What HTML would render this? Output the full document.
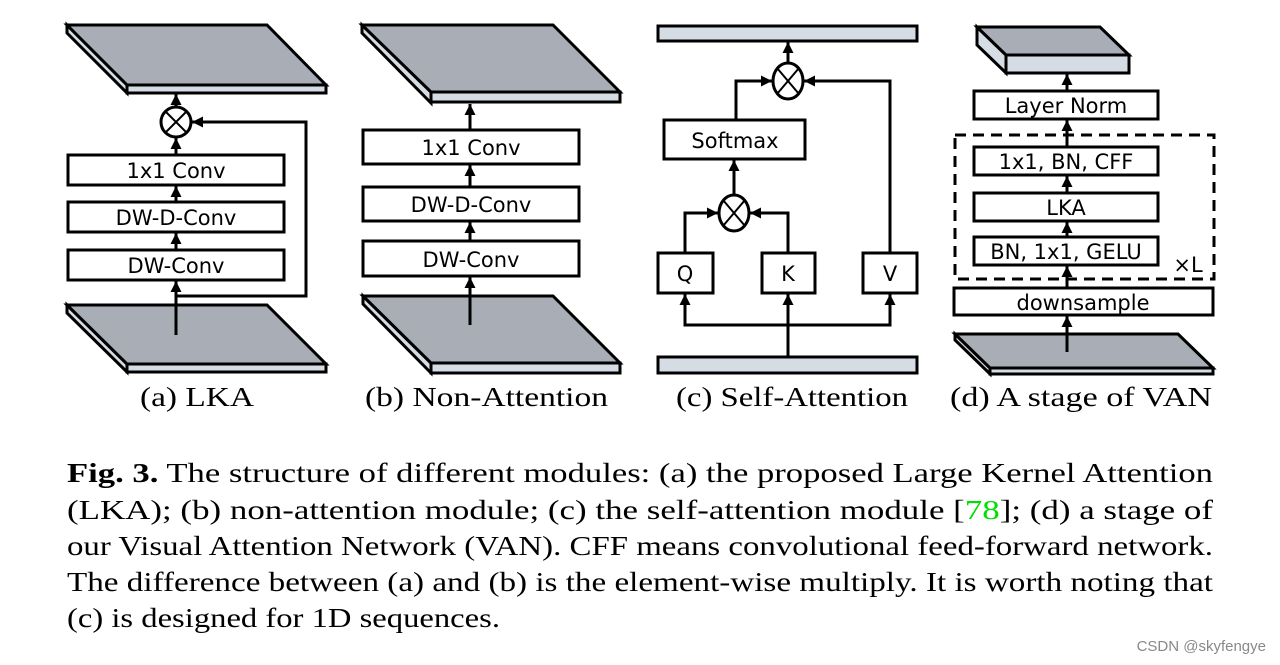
<!DOCTYPE html>
<html><head><meta charset="utf-8"><style>
html,body{margin:0;padding:0;background:#fff;}
svg{display:block;}
.s{font-family:"DejaVu Sans","Liberation Sans",sans-serif;font-size:21px;fill:#000;}
.r{font-family:"Liberation Serif",serif;font-size:27px;fill:#000;}
</style></head><body>
<svg width="1280" height="665" viewBox="0 0 1280 665" xmlns="http://www.w3.org/2000/svg">
<defs>
<marker id="a" markerWidth="12" markerHeight="12" refX="11" refY="6" orient="auto" markerUnits="userSpaceOnUse"><path d="M0,0.5 L11,6 L0,11.5 z" fill="#000"/></marker>
</defs>
<g stroke="#000" stroke-width="3" stroke-linejoin="miter">
<polygon points="67,25 67,33 127,93 127,85" fill="#d6dce4"/>
<rect x="127" y="85" width="199" height="8" fill="#d6dce4"/>
<polygon points="67,25 267,25 326,85 127,85" fill="#a9aeb6"/>
<polygon points="67,305 67,313 127,372 127,364" fill="#d6dce4"/>
<rect x="127" y="364" width="199" height="8" fill="#d6dce4"/>
<polygon points="67,305 267,305 326,364 127,364" fill="#a9aeb6"/>
<polygon points="362,25 362,33 431,103 431,92" fill="#d6dce4"/>
<rect x="431" y="92" width="189" height="10" fill="#d6dce4"/>
<polygon points="362,25 553,25 620,92 431,92" fill="#a9aeb6"/>
<polygon points="363,296 363,304 431,373 431,363" fill="#d6dce4"/>
<rect x="431" y="363" width="189" height="10" fill="#d6dce4"/>
<polygon points="363,296 553,296 620,363 431,363" fill="#a9aeb6"/>
<rect x="658" y="26" width="259" height="15" fill="#d6dce4"/>
<rect x="658" y="357" width="259" height="16" fill="#d6dce4"/>
<polygon points="977,27 977,45 1006,73 1006,55" fill="#d6dce4"/>
<rect x="1006" y="55" width="123" height="18" fill="#d6dce4"/>
<polygon points="977,27 1100,27 1129,55 1006,55" fill="#a9aeb6"/>
<polygon points="955,334 955,340 990,374 990,368" fill="#d6dce4"/>
<rect x="990" y="368" width="223" height="6" fill="#d6dce4"/>
<polygon points="955,334 1178,334 1213,368 990,368" fill="#a9aeb6"/>
<g fill="#fff">
<rect x="68" y="155" width="216" height="30"/>
<rect x="68" y="202" width="216" height="30"/>
<rect x="68" y="250" width="216" height="30"/>
<rect x="363" y="130" width="216" height="34"/>
<rect x="363" y="187" width="216" height="34"/>
<rect x="363" y="241" width="216" height="35"/>
<rect x="664" y="120" width="141" height="39"/>
<rect x="658" y="253" width="55" height="40"/>
<rect x="762" y="253" width="53" height="40"/>
<rect x="863" y="253" width="54" height="40"/>
<rect x="974" y="91" width="184" height="28"/>
<rect x="974" y="147" width="184" height="28"/>
<rect x="974" y="193" width="184" height="28"/>
<rect x="974" y="237" width="184" height="28"/>
<rect x="954" y="288" width="259" height="27"/>
<ellipse cx="176" cy="122" rx="15" ry="15"/>
<ellipse cx="788" cy="81" rx="15" ry="18"/>
<ellipse cx="734" cy="213" rx="15" ry="18"/>
</g>
<path d="M165,111 L187,133 M187,111 L165,133" stroke-width="2"/>
<path d="M777,68 L799,94 M799,68 L777,94" stroke-width="2"/>
<path d="M723,200 L745,226 M745,200 L723,226" stroke-width="2"/>
<rect x="955" y="135" width="259" height="144" fill="none" stroke-dasharray="11,7"/>
<g fill="none" marker-end="url(#a)">
<path d="M176,335 V281"/>
<path d="M176,250 V233"/>
<path d="M176,202 V186"/>
<path d="M176,155 V138"/>
<path d="M176,107 V94"/>
<path d="M176,296 H306 V122 H192"/>
<path d="M470,325 V277"/>
<path d="M470,241 V222"/>
<path d="M470,187 V165"/>
<path d="M470,130 V104"/>
<path d="M788,357 V294"/>
<path d="M788,325 H685 V294"/>
<path d="M788,325 H890 V294"/>
<path d="M685,253 V213 H718"/>
<path d="M788,253 V213 H750"/>
<path d="M734,195 V160"/>
<path d="M736,120 V81 H772"/>
<path d="M890,253 V81 H804"/>
<path d="M788,63 V42"/>
<path d="M1067,352 V316"/>
<path d="M1067,288 V266"/>
<path d="M1067,237 V222"/>
<path d="M1067,193 V176"/>
<path d="M1067,147 V120"/>
<path d="M1067,91 V74"/>
</g>
</g>
<g class="s" text-anchor="middle">
<text x="176" y="178">1x1 Conv</text>
<text x="176" y="225">DW-D-Conv</text>
<text x="176" y="273">DW-Conv</text>
<text x="471" y="155">1x1 Conv</text>
<text x="471" y="212">DW-D-Conv</text>
<text x="471" y="267">DW-Conv</text>
<text x="735" y="148">Softmax</text>
<text x="685" y="281">Q</text>
<text x="788" y="281">K</text>
<text x="890" y="281">V</text>
<text x="1066" y="113">Layer Norm</text>
<text x="1066" y="169">1x1, BN, CFF</text>
<text x="1066" y="215">LKA</text>
<text x="1066" y="259">BN, 1x1, GELU</text>
<text x="1083" y="310">downsample</text>
<text x="1188" y="272">×L</text>
</g>
<g class="r">
<text x="140" y="406" textLength="114" lengthAdjust="spacingAndGlyphs">(a) LKA</text>
<text x="365" y="406" textLength="243" lengthAdjust="spacingAndGlyphs">(b) Non-Attention</text>
<text x="676" y="406" textLength="232" lengthAdjust="spacingAndGlyphs">(c) Self-Attention</text>
<text x="950" y="406" textLength="262" lengthAdjust="spacingAndGlyphs">(d) A stage of VAN</text>
</g>
<g class="r">
<text x="67" y="482" textLength="1146" lengthAdjust="spacingAndGlyphs"><tspan font-weight="bold">Fig. 3.</tspan> The structure of different modules: (a) the proposed Large Kernel Attention</text>
<text x="67" y="519" textLength="1146" lengthAdjust="spacingAndGlyphs">(LKA); (b) non-attention module; (c) the self-attention module [<tspan fill="#00e000">78</tspan>]; (d) a stage of</text>
<text x="67" y="555" textLength="1146" lengthAdjust="spacingAndGlyphs">our Visual Attention Network (VAN). CFF means convolutional feed-forward network.</text>
<text x="67" y="591" textLength="1146" lengthAdjust="spacingAndGlyphs">The difference between (a) and (b) is the element-wise multiply. It is worth noting that</text>
<text x="67" y="627" textLength="433" lengthAdjust="spacingAndGlyphs">(c) is designed for 1D sequences.</text>
</g>
<text x="1266" y="651" text-anchor="end" font-family="Liberation Sans, sans-serif" font-size="15" fill="#888">CSDN @skyfengye</text>
</svg>
</body></html>
